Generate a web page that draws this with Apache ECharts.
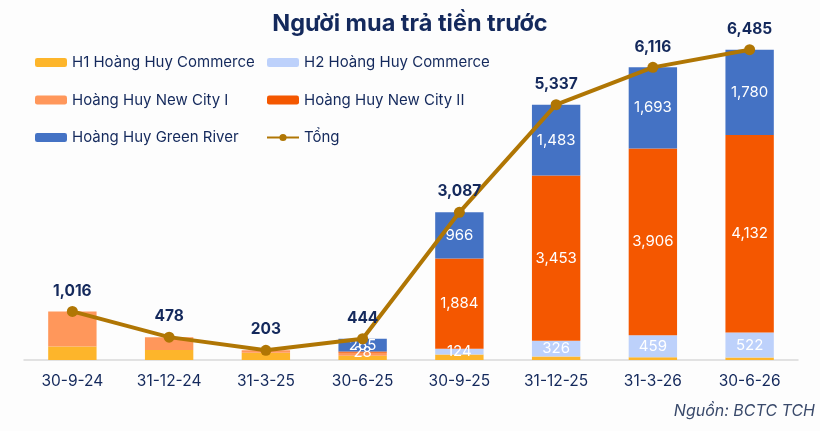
<!DOCTYPE html>
<html>
<head>
<meta charset="utf-8">
<script src="https://cdn.jsdelivr.net/npm/echarts@6/dist/echarts.min.js"></script>
<style>
  html, body { margin: 0; padding: 0; background: #fdfdfd; }
  #main { width: 820px; height: 431px; }
</style>
</head>
<body>
<div id="main"></div>
<script>
var categories = ['30-9-24', '31-12-24', '31-3-25', '30-6-25', '30-9-25', '31-12-25', '31-3-26', '30-6-26'];
var h1Commerce = [280, 210, 150, 90, 113, 75, 58, 51];
var h2Commerce = [0, 0, 0, 0, 124, 326, 459, 522];
var newCity1 = [736, 268, 53, 61, 0, 0, 0, 0];
var newCity2 = [0, 0, 0, 28, 1884, 3453, 3906, 4132];
var greenRiver = [0, 0, 0, 265, 966, 1483, 1693, 1780];
var totals = [1016, 478, 203, 444, 3087, 5337, 6116, 6485];

var navy = '#14295c';
var font = 'Inter';

function fmt(v) {
    return v.toLocaleString('en-US');
}

var myChart = echarts.init(document.getElementById('main'));

function barSeries(name, data, color, showLabel) {
    return {
        name: name,
        type: 'bar',
        stack: 'total',
        barWidth: '50%',
        itemStyle: { color: color },
        label: {
            show: showLabel,
            position: 'inside',
            color: '#ffffff',
            fontFamily: font,
            fontSize: 15,
            formatter: function (p) { return p.value > 0 ? fmt(p.value) : ''; }
        },
        data: data
    };
}

myChart.setOption({
    backgroundColor: '#fdfdfd',
    title: {
        text: 'Người mua trả tiền trước',
        left: 'center',
        top: 7,
        textStyle: { color: navy, fontFamily: font, fontSize: 23.5, fontWeight: 'bold' }
    },
    legend: [{
        data: ['H1 Hoàng Huy Commerce', 'Hoàng Huy New City I', 'Hoàng Huy Green River'],
        orient: 'vertical',
        left: 30,
        top: 50,
        itemWidth: 32,
        itemHeight: 9,
        itemGap: 22.5,
        textStyle: { color: navy, fontFamily: font, fontSize: 15 }
    }, {
        data: ['H2 Hoàng Huy Commerce', 'Hoàng Huy New City II', 'Tổng'],
        orient: 'vertical',
        left: 261,
        top: 50,
        itemWidth: 32,
        itemHeight: 9,
        itemGap: 22.5,
        textStyle: { color: navy, fontFamily: font, fontSize: 15 }
    }],
    grid: { left: 24, right: 22, top: 49, bottom: 71 },
    xAxis: {
        type: 'category',
        data: categories,
        axisTick: { show: false },
        axisLine: { lineStyle: { color: '#d9d9d9', width: 1.5 } },
        axisLabel: { color: navy, fontFamily: font, fontSize: 15.5, margin: 13 }
    },
    yAxis: {
        type: 'value',
        min: 0,
        max: 6500,
        show: false
    },
    graphic: [{
        type: 'text',
        right: 5,
        top: 403,
        style: {
            text: 'Nguồn: BCTC TCH',
            fill: '#3a4a6b',
            font: 'italic 16px Inter'
        }
    }],
    series: [
        barSeries('H1 Hoàng Huy Commerce', h1Commerce, '#fdb52b', false),
        barSeries('H2 Hoàng Huy Commerce', h2Commerce, '#bdd1fb', true),
        barSeries('Hoàng Huy New City I', newCity1, '#ff975b', false),
        barSeries('Hoàng Huy New City II', newCity2, '#f45700', true),
        barSeries('Hoàng Huy Green River', greenRiver, '#4472c4', true),
        {
            name: 'Tổng',
            type: 'line',
            data: totals,
            z: 10,
            symbol: 'circle',
            symbolSize: 11,
            lineStyle: { color: '#b07604', width: 4 },
            itemStyle: { color: '#b07604' },
            label: {
                show: true,
                position: 'top',
                distance: 7,
                color: navy,
                fontFamily: font,
                fontSize: 15.5,
                fontWeight: 'bold',
                formatter: function (p) { return fmt(p.value); }
            }
        }
    ]
});
</script>
</body>
</html>
